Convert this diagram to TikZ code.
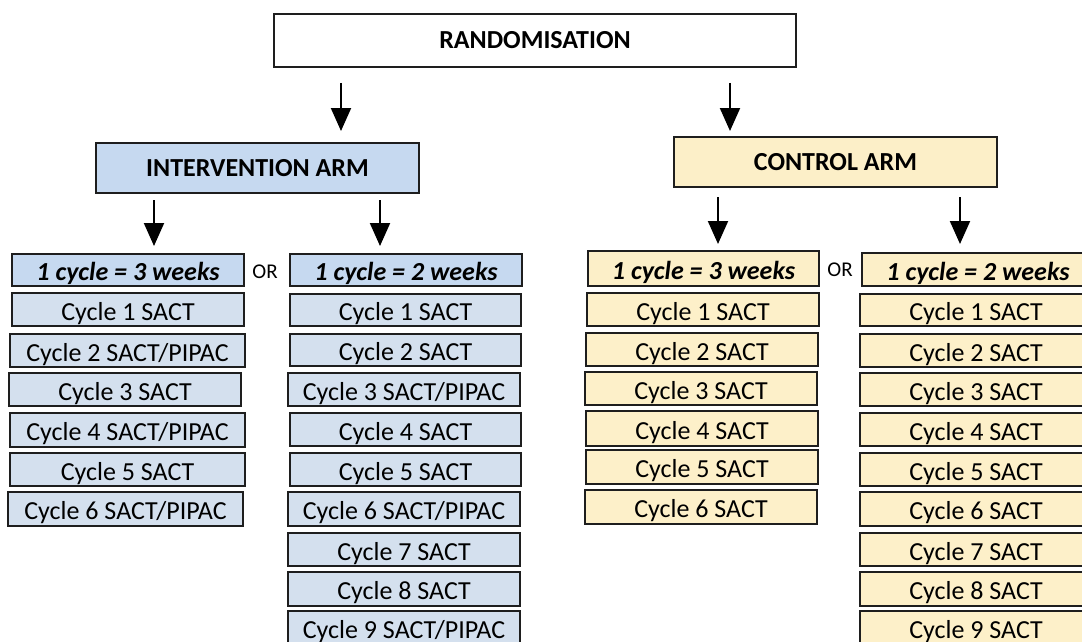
\documentclass[tikz,border=0pt]{standalone}
\usepackage{fontspec}
\setmainfont{Carlito}
\usetikzlibrary{arrows.meta}
\definecolor{hblue}{HTML}{C6D9F0}
\definecolor{cblue}{HTML}{D4E0EE}
\definecolor{hyel}{HTML}{FCEFC8}
\definecolor{cyel}{HTML}{FDF0C9}
\definecolor{edge}{HTML}{1E1E1E}
\tikzset{
  box/.style={draw=edge, line width=2pt, inner sep=0pt, text=black,
    text height=21pt, text depth=0pt,
    font=\fontsize{26}{30}\selectfont},
  headbox/.style={draw=edge, line width=2pt, inner sep=0pt, text=black,
    font=\fontsize{26}{30}\selectfont\bfseries},
  wkbox/.style={box, font=\fontsize{26}{30}\selectfont\bfseries\itshape},
  arr/.style={line width=2pt, -{Triangle[length=23pt,width=20pt]}},
  orlab/.style={font=\fontsize{21}{24}\selectfont, text=black, inner sep=0pt}
}
\begin{document}
\begin{tikzpicture}[x=1pt,y=-1pt]
\useasboundingbox (0,0) rectangle (1082,642);
\clip (0,0) rectangle (1082,642);
\fill[white] (0,0) rectangle (1082,642);
% top
\node[headbox, fill=white, minimum width=522pt, minimum height=53pt] (rand) at (535,40.5) {RANDOMISATION};
\node[headbox, fill=hblue, minimum width=323pt, minimum height=50pt] (int) at (257.5,168) {INTERVENTION ARM};
\node[headbox, fill=hyel, minimum width=323pt, minimum height=50pt] (con) at (835.5,162) {CONTROL ARM};
% arrows
\coordinate (a1s) at (341,83);  \coordinate (a1e) at (341,131);
\coordinate (a2s) at (730,83);  \coordinate (a2e) at (730,131);
\coordinate (a3s) at (154,200); \coordinate (a3e) at (154,246);
\coordinate (a4s) at (380,200); \coordinate (a4e) at (380,246);
\coordinate (a5s) at (718,197); \coordinate (a5e) at (718,244);
\coordinate (a6s) at (960,197); \coordinate (a6e) at (960,244);
\foreach \i in {1,...,6} {\draw[arr] (a\i s) -- (a\i e);}
% intervention 3 weeks
\begin{scope}[every node/.append style={fill=cblue, minimum height=33pt}]
\node[wkbox, fill=hblue, minimum width=232pt, minimum height=32pt] (i3h) at (128,270) {1 cycle = 3 weeks};
\node[box, minimum width=232pt] (i3c1) at (128,309.5) {Cycle 1 SACT};
\node[box, minimum width=235pt] (i3c2) at (127.5,350.5) {Cycle 2 SACT/PIPAC};
\node[box, minimum width=232pt] (i3c3) at (125,389.5) {Cycle 3 SACT};
\node[box, minimum width=235pt, minimum height=34pt] (i3c4) at (127.5,430) {Cycle 4 SACT/PIPAC};
\node[box, minimum width=235pt] (i3c5) at (127.5,469.5) {Cycle 5 SACT};
\node[box, minimum width=235pt, minimum height=34pt] (i3c6) at (125.5,509) {Cycle 6 SACT/PIPAC};
% intervention 2 weeks
\node[wkbox, fill=hblue, minimum width=232pt, minimum height=32pt] (i2h) at (406,270) {1 cycle = 2 weeks};
\node[box, minimum width=231pt, minimum height=32pt] (i2c1) at (405.5,310) {Cycle 1 SACT};
\node[box, minimum width=231pt, minimum height=32pt] (i2c2) at (405.5,350) {Cycle 2 SACT};
\node[box, minimum width=232pt] (i2c3) at (404,389.5) {Cycle 3 SACT/PIPAC};
\node[box, minimum width=231pt] (i2c4) at (405.5,429.5) {Cycle 4 SACT};
\node[box, minimum width=231pt] (i2c5) at (405.5,469.5) {Cycle 5 SACT};
\node[box, minimum width=232pt, minimum height=34pt] (i2c6) at (404,509) {Cycle 6 SACT/PIPAC};
\node[box, minimum width=232pt] (i2c7) at (404,549.5) {Cycle 7 SACT};
\node[box, minimum width=232pt, minimum height=34pt] (i2c8) at (404,589) {Cycle 8 SACT};
\node[box, minimum width=232pt, minimum height=34pt] (i2c9) at (404,628) {Cycle 9 SACT/PIPAC};
\end{scope}
% control 3 weeks
\begin{scope}[every node/.append style={fill=cyel, minimum height=33pt}]
\node[wkbox, fill=hyel, minimum width=231pt, minimum height=35pt] (c3h) at (703.5,268.5) {1 cycle = 3 weeks};
\node[box, minimum width=232pt] (c3c1) at (703,309.5) {Cycle 1 SACT};
\node[box, minimum width=232pt] (c3c2) at (702,349.5) {Cycle 2 SACT};
\node[box, minimum width=232pt] (c3c3) at (701,388.5) {Cycle 3 SACT};
\node[box, minimum width=232pt, minimum height=35pt] (c3c4) at (702,428.5) {Cycle 4 SACT};
\node[box, minimum width=232pt, minimum height=34pt] (c3c5) at (702,467) {Cycle 5 SACT};
\node[box, minimum width=232pt, minimum height=34pt] (c3c6) at (701,507) {Cycle 6 SACT};
% control 2 weeks
\node[wkbox, fill=hyel, minimum width=232pt, minimum height=33pt] (c2h) at (978,269.5) {1 cycle = 2 weeks};
\node[box, minimum width=232pt, minimum height=32pt] (c2c1) at (976,310) {Cycle 1 SACT};
\node[box, minimum width=232pt] (c2c2) at (976,350.5) {Cycle 2 SACT};
\node[box, minimum width=232pt] (c2c3) at (976,389.5) {Cycle 3 SACT};
\node[box, minimum width=232pt] (c2c4) at (976,429.5) {Cycle 4 SACT};
\node[box, minimum width=232pt] (c2c5) at (976,469.5) {Cycle 5 SACT};
\node[box, minimum width=232pt, minimum height=34pt] (c2c6) at (976,509) {Cycle 6 SACT};
\node[box, minimum width=232pt] (c2c7) at (976,549.5) {Cycle 7 SACT};
\node[box, minimum width=232pt, minimum height=34pt] (c2c8) at (976,589) {Cycle 8 SACT};
\node[box, minimum width=232pt, minimum height=34pt] (c2c9) at (976,628) {Cycle 9 SACT};
\end{scope}
% OR labels
\node[orlab] (or1) at (265,272) {OR};
\node[orlab] (or2) at (840,270) {OR};
\end{tikzpicture}
\end{document}
